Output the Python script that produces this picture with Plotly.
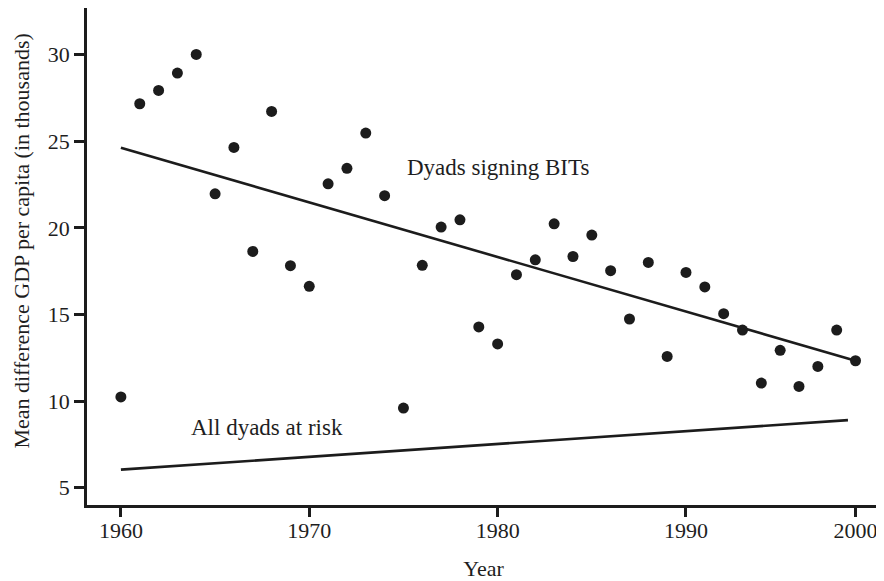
import plotly.graph_objects as go

years = list(range(1960, 2000))
gdp_diff = [10.24, 27.17, 27.94, 28.94, 30.02, 21.97, 24.65, 18.64, 26.73, 17.82,
            16.63, 22.55, 23.44, 25.48, 21.86, 9.60, 17.84, 20.05, 20.47, 14.28,
            13.30, 17.30, 18.16, 20.24, 18.35, 19.59, 17.53, 14.74, 18.01, 12.58,
            17.43, 16.59, 15.05, 14.10, 11.04, 12.93, 10.85, 12.00, 14.10, 12.33]

bits_line_x = [1960, 1999]
bits_line_y = [24.63, 12.33]
risk_line_x = [1960, 1998.6]
risk_line_y = [6.04, 8.90]

x_tick_vals = [1960, 1970, 1980, 1990, 1999]
x_tick_text = ["1960", "1970", "1980", "1990", "2000"]
y_tick_vals = [5, 10, 15, 20, 25, 30]

ink = "#1c1c1c"
font = "'Liberation Serif', 'Times New Roman', 'DejaVu Serif', serif"

fig = go.Figure()
fig.add_trace(go.Scatter(x=years, y=gdp_diff, mode="markers",
                         marker=dict(size=11, color=ink), showlegend=False))
fig.add_trace(go.Scatter(x=bits_line_x, y=bits_line_y, mode="lines",
                         line=dict(color=ink, width=2.6), showlegend=False))
fig.add_trace(go.Scatter(x=risk_line_x, y=risk_line_y, mode="lines",
                         line=dict(color=ink, width=2.6), showlegend=False))

fig.add_annotation(x=1975.1, y=23.5, text="Dyads signing BITs", showarrow=False,
                   xanchor="left", yanchor="middle",
                   font=dict(family=font, size=23, color="#1e1e1e"))
fig.add_annotation(x=1963.6, y=8.45, text="All dyads at risk", showarrow=False,
                   xanchor="left", yanchor="middle",
                   font=dict(family=font, size=23, color="#1e1e1e"))
fig.add_annotation(xref="paper", yref="paper", x=-0.0826, y=0.531,
                   text="Mean difference GDP per capita (in thousands)",
                   textangle=-90, showarrow=False, xanchor="center", yanchor="middle",
                   font=dict(family=font, size=22, color="#1e1e1e"))

fig.update_layout(
    width=876, height=573,
    margin=dict(l=79, r=4, t=0, b=76),
    paper_bgcolor="white", plot_bgcolor="white",
    font=dict(family=font, size=22, color="#1e1e1e"),
)
fig.update_xaxes(range=[1958.2, 2000.3], tickvals=x_tick_vals, ticktext=x_tick_text,
                 showline=True, linecolor=ink, linewidth=2.5, ticks="outside",
                 ticklen=9, tickwidth=2.5, tickcolor=ink, showgrid=False, zeroline=False,
                 automargin=False, tickfont=dict(family=font, size=22),
                 ticklabelstandoff=-5,
                 title=dict(text="Year", standoff=19, font=dict(family=font, size=22)))
fig.update_yaxes(range=[4.0, 32.7], tickvals=y_tick_vals,
                 showline=True, linecolor=ink, linewidth=2.5, ticks="outside",
                 ticklen=10, tickwidth=2.5, tickcolor=ink, showgrid=False, zeroline=False,
                 automargin=False, tickfont=dict(family=font, size=22))

fig.write_html("out.html")
